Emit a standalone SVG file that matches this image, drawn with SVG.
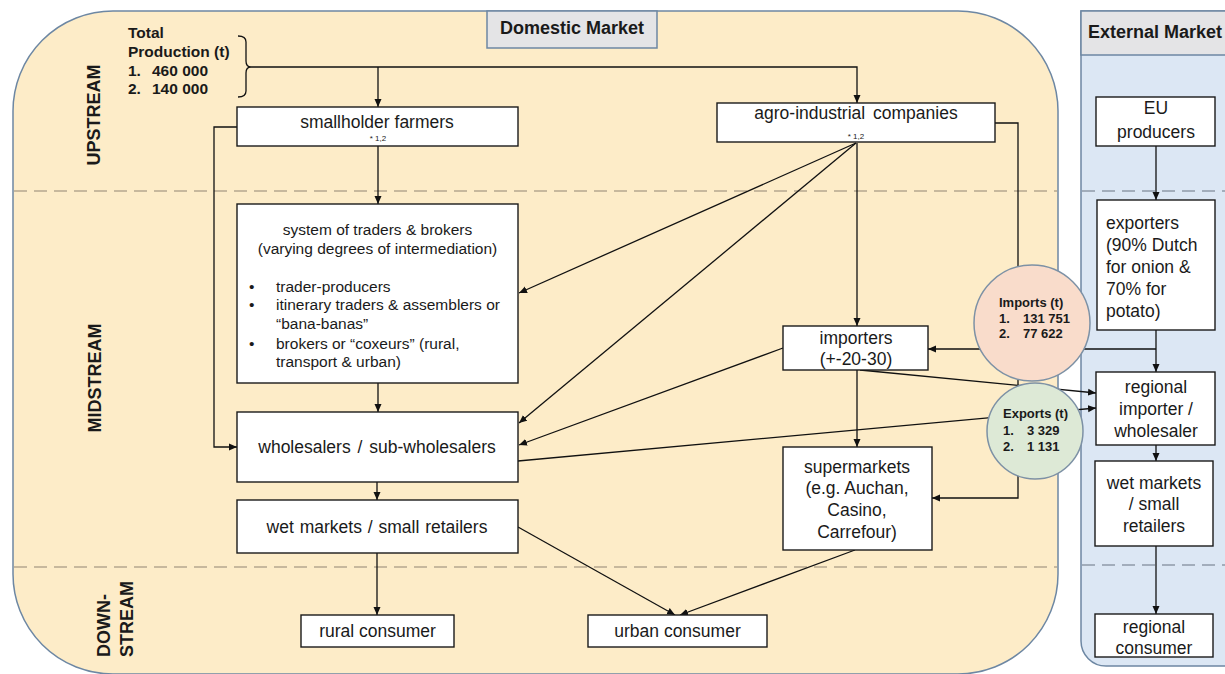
<svg xmlns="http://www.w3.org/2000/svg" width="1225" height="674" viewBox="0 0 1225 674">
<defs>
<marker id="arr" markerUnits="userSpaceOnUse" markerWidth="9" markerHeight="8" refX="8" refY="4" orient="auto"><path d="M0,0.5 L8,4 L0,7.5 z" fill="#111"/></marker>
<style>
text{font-family:"Liberation Sans",Arial,sans-serif;fill:#1a1a1a}
.lbl{font-size:17.5px;text-anchor:middle}
.lbls{font-size:17.5px;text-anchor:start}
.sm{font-size:15.5px}
.tiny{font-size:8px;text-anchor:middle}
.hdr{font-size:18px;font-weight:bold}
.side{font-size:18px;font-weight:bold}
.bold{font-weight:bold}
.box{fill:#fff;stroke:#1a1a1a;stroke-width:1.4}
.con{fill:none;stroke:#111;stroke-width:1.3}
.arr{marker-end:url(#arr)}
.dashY{stroke:#b5a78f;stroke-width:1.5;stroke-dasharray:13 7;fill:none}
.dashB{stroke:#8e9aa8;stroke-width:1.5;stroke-dasharray:13 7;fill:none}
.circ{stroke:#7d91a5;stroke-width:1.5}
</style>
</defs>

<g id="panels">
<rect x="13" y="11" width="1045" height="663" rx="100" ry="100" fill="#fdecc8" stroke="#6d87a3" stroke-width="1.5"/>
<path d="M1081,11 H1240 V666 H1106 A25,25 0 0 1 1081,641 Z" fill="#dce7f4" stroke="#6d87a3" stroke-width="1.5"/>
<line class="dashY" x1="14" y1="191" x2="1057" y2="191"/>
<line class="dashY" x1="14" y1="567" x2="1057" y2="567"/>
<line class="dashB" x1="1082" y1="191" x2="1225" y2="191"/>
<line class="dashB" x1="1082" y1="565" x2="1225" y2="565"/>
<rect x="487" y="11" width="170" height="37" fill="#e4e4e6" stroke="#6d87a3" stroke-width="1.5"/>
<text class="hdr" x="572" y="34" text-anchor="middle">Domestic Market</text>
<rect x="1081" y="11" width="160" height="44" fill="#e4e4e6" stroke="#6d87a3" stroke-width="1.5"/>
<text class="hdr" x="1088" y="38">External Market</text>
<text class="side" transform="translate(100,115) rotate(-90)" text-anchor="middle">UPSTREAM</text>
<text class="side" transform="translate(101,378) rotate(-90)" text-anchor="middle">MIDSTREAM</text>
<text class="side" transform="translate(110,657) rotate(-90)">DOWN-</text>
<text class="side" transform="translate(133,657) rotate(-90)">STREAM</text>
</g>

<g id="total-production">
<text class="bold" font-size="15.5" x="128" y="37.5">Total</text>
<text class="bold" font-size="15.5" x="128" y="57">Production (t)</text>
<text class="bold" font-size="15.5" x="128" y="75.5">1.</text>
<text class="bold" font-size="15.5" x="152" y="75.5">460 000</text>
<text class="bold" font-size="15.5" x="128" y="93.5">2.</text>
<text class="bold" font-size="15.5" x="152" y="93.5">140 000</text>
<path class="con" d="M238,36 Q246,36 246,42 V61 Q246,67 251,67 Q246,67 246,73 V91 Q246,97 238,97"/>
</g>

<g id="connectors">
<path class="con arr" d="M251,67 H857 V103"/>
<path class="con arr" d="M378,67 V107"/>
<path class="con arr" d="M378,146 V204"/>
<path class="con arr" d="M237,127 H214 V447 H237"/>
<path class="con arr" d="M378,383 V412"/>
<path class="con arr" d="M377,482 V500"/>
<path class="con arr" d="M377,553 V615"/>
<path class="con arr" d="M518,527 L675,615"/>
<path class="con arr" d="M855,550 L680,615"/>
<path class="con arr" d="M856,143 L519,293"/>
<path class="con arr" d="M856,143 L519,423"/>
<path class="con arr" d="M857,143 V326"/>
<path class="con arr" d="M995,123 H1018 V498 H932"/>
<path class="con arr" d="M783,348 L519,445"/>
<path class="con arr" d="M857,370 V447"/>
<path class="con arr" d="M860,370 L1096,393"/>
<path class="con arr" d="M518,461 L1096,408"/>
<path class="con arr" d="M1156,349 H928"/>
<path class="con arr" d="M1156,146 V200"/>
<path class="con arr" d="M1156,330 V372"/>
<path class="con arr" d="M1156,445 V461"/>
<path class="con arr" d="M1156,546 V614"/>
</g>

<g id="smallholder-farmers">
<rect class="box" x="237" y="107" width="281" height="39"/>
<text class="lbl" x="377" y="128">smallholder farmers</text>
<text class="tiny" x="378" y="141">* 1,2</text>
</g>

<g id="agro-industrial-companies">
<rect class="box" x="717" y="103" width="278" height="39"/>
<text class="lbl" x="856" y="119" word-spacing="3">agro-industrial companies</text>
<text class="tiny" x="856" y="139">* 1,2</text>
</g>

<g id="traders-brokers">
<rect class="box" x="237" y="204" width="281" height="179"/>
<text class="sm" x="377.5" y="234.5" text-anchor="middle">system of traders &amp; brokers</text>
<text class="sm" x="377.5" y="253.5" text-anchor="middle">(varying degrees of intermediation)</text>
<text class="sm" x="249" y="291.5">•</text>
<text class="sm" x="276" y="291.5">trader-producers</text>
<text class="sm" x="249" y="309.5">•</text>
<text class="sm" x="276" y="309.5">itinerary traders &amp; assemblers or</text>
<text class="sm" x="276" y="328.5">“bana-banas”</text>
<text class="sm" x="249" y="348.5">•</text>
<text class="sm" x="276" y="348.5">brokers or “coxeurs” (rural,</text>
<text class="sm" x="276" y="366.5">transport &amp; urban)</text>
</g>

<g id="wholesalers">
<rect class="box" x="237" y="412" width="281" height="70"/>
<text class="lbl" x="377" y="453" word-spacing="2">wholesalers / sub-wholesalers</text>
</g>

<g id="wet-markets">
<rect class="box" x="237" y="500" width="281" height="53"/>
<text class="lbl" x="377" y="533" word-spacing="1">wet markets / small retailers</text>
</g>

<g id="rural-consumer">
<rect class="box" x="301" y="615" width="153" height="32"/>
<text class="lbl" x="377.5" y="637">rural consumer</text>
</g>

<g id="urban-consumer">
<rect class="box" x="588" y="615" width="179" height="32"/>
<text class="lbl" x="677.5" y="637">urban consumer</text>
</g>

<g id="importers">
<rect class="box" x="783" y="326" width="145" height="44"/>
<text class="lbl" x="856" y="344">importers</text>
<text class="lbl" x="856" y="365">(+-20-30)</text>
</g>

<g id="supermarkets">
<rect class="box" x="783" y="447" width="149" height="103"/>
<text class="lbl" x="857" y="473">supermarkets</text>
<text class="lbl" x="857" y="494">(e.g. Auchan,</text>
<text class="lbl" x="857" y="516">Casino,</text>
<text class="lbl" x="857" y="538">Carrefour)</text>
</g>

<g id="imports">
<circle class="circ" cx="1032" cy="323" r="58" fill="#f9dccb"/>
<text class="bold" font-size="13" x="999" y="306.5">Imports (t)</text>
<text class="bold" font-size="13" x="999" y="322.5">1.</text>
<text class="bold" font-size="13" x="1023" y="322.5">131 751</text>
<text class="bold" font-size="13" x="999" y="337.5">2.</text>
<text class="bold" font-size="13" x="1023" y="337.5">77 622</text>
</g>

<g id="exports">
<circle class="circ" cx="1035" cy="431" r="48" fill="#dde9d6"/>
<text class="bold" font-size="13" x="1003" y="417.5">Exports (t)</text>
<text class="bold" font-size="13" x="1003" y="434.5">1.</text>
<text class="bold" font-size="13" x="1027" y="434.5">3 329</text>
<text class="bold" font-size="13" x="1003" y="450.5">2.</text>
<text class="bold" font-size="13" x="1027" y="450.5">1 131</text>
</g>

<g id="eu-producers">
<rect class="box" x="1096" y="97" width="119" height="49"/>
<text class="lbl" x="1156" y="114">EU</text>
<text class="lbl" x="1156" y="138">producers</text>
</g>

<g id="exporters">
<rect class="box" x="1097" y="200" width="118" height="130"/>
<text class="lbls" x="1106" y="229">exporters</text>
<text class="lbls" x="1106" y="251">(90% Dutch</text>
<text class="lbls" x="1106" y="273">for onion &amp;</text>
<text class="lbls" x="1106" y="295">70% for</text>
<text class="lbls" x="1106" y="317">potato)</text>
</g>

<g id="regional-importer">
<rect class="box" x="1096" y="372" width="119" height="73"/>
<text class="lbl" x="1156" y="393">regional</text>
<text class="lbl" x="1156" y="415">importer /</text>
<text class="lbl" x="1156" y="437">wholesaler</text>
</g>

<g id="ext-wet-markets">
<rect class="box" x="1095" y="461" width="118" height="85"/>
<text class="lbl" x="1154" y="489">wet markets</text>
<text class="lbl" x="1154" y="510">/ small</text>
<text class="lbl" x="1154" y="532">retailers</text>
</g>

<g id="regional-consumer">
<rect class="box" x="1095" y="614" width="118" height="43"/>
<text class="lbl" x="1154" y="633">regional</text>
<text class="lbl" x="1154" y="654">consumer</text>
</g>
</svg>
